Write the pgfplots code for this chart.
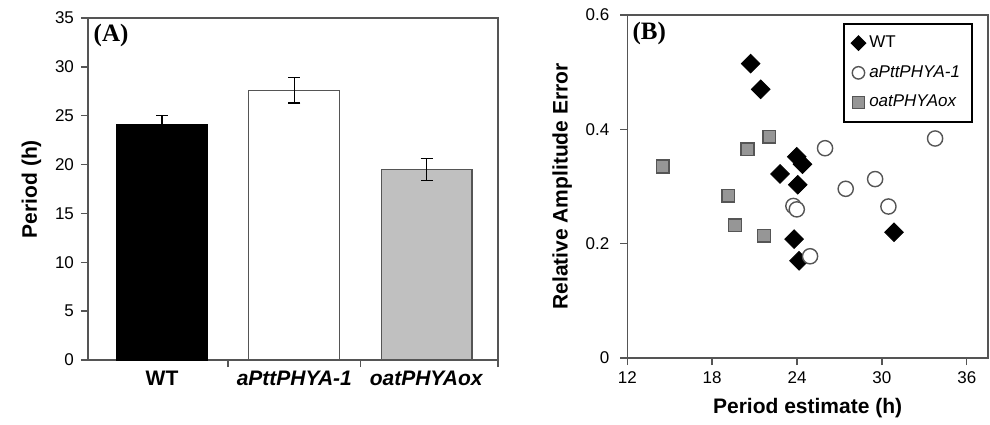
\documentclass[border=0pt]{standalone}
\usepackage{pgfplots}
\pgfplotsset{compat=1.18}
\usepackage{fontspec}
\setmainfont{Liberation Sans}
\newfontfamily\timesfont{Liberation Serif}
\definecolor{axgray}{RGB}{85,85,85}
\definecolor{oatgray}{RGB}{192,192,192}
\definecolor{sqgray}{RGB}{150,150,150}
\begin{document}
\begin{tikzpicture}
\pgfplotsset{
  every axis/.append style={
    scale only axis,
    axis line style={axgray, line width=0.7pt},
    tick style={axgray, line width=0.7pt},
    tick align=outside,
    major tick length=3.5pt,
    tick label style={font=\fontsize{8.5}{10}\selectfont},
    label style={font=\bfseries\fontsize{10.5}{12}\selectfont},
    /pgf/number format/assume math mode=true,
  }
}
% page frame, same proportions as the reference
\path (-44pt,-30.5pt) rectangle (451pt,180pt);

% (A) period bars
\begin{axis}[
  at={(0,0)}, anchor=south west,
  width=205pt, height=171pt,
  xmin=-0.56, xmax=2.54, ymin=0, ymax=35,
  ytick={0,5,...,35}, ytick pos=left,
  xtick={0.5,1.5,2.54}, xticklabels={}, xtick pos=bottom,
  extra x ticks={0,1,2},
  extra x tick labels={\textbf{WT},\textbf{\textit{aPttPHYA-1}},\textbf{\textit{oatPHYAox}}},
  extra x tick style={major tick length=0pt,
    tick label style={font=\bfseries\fontsize{10.5}{12}\selectfont, yshift=-2pt}},
  ylabel={Period (h)},
  bar width=0.687,
  clip=false,
]
  \addplot[ybar, fill=black, draw=black, line width=0.6pt,
    error bars/.cd, y dir=both, y explicit,
    error bar style={black, line width=0.6pt},
    error mark options={rotate=90, mark size=3pt, black, line width=0.6pt}]
    coordinates {(0,24.05) +- (0,1.0)};
  \addplot[ybar, fill=white, draw=axgray, line width=0.6pt,
    error bars/.cd, y dir=both, y explicit,
    error bar style={black, line width=0.6pt},
    error mark options={rotate=90, mark size=3pt, black, line width=0.6pt}]
    coordinates {(1,27.6) +- (0,1.3)};
  \addplot[ybar, fill=oatgray, draw=axgray, line width=0.6pt,
    error bars/.cd, y dir=both, y explicit,
    error bar style={black, line width=0.6pt},
    error mark options={rotate=90, mark size=3pt, black, line width=0.6pt}]
    coordinates {(2,19.5) +- (0,1.1)};
  \node[anchor=north west, font=\timesfont\bfseries\fontsize{12.5}{14}\selectfont,
    inner sep=1pt] at (rel axis cs:0.008,0.99) {(A)};
\end{axis}

% (B) amplitude error vs period
\begin{axis}[
  at={(269.65pt,1pt)}, anchor=south west,
  width=180.35pt, height=171.5pt,
  xmin=12, xmax=37.5, ymin=0, ymax=0.6,
  xtick={12,18,...,36}, ytick={0,0.2,0.4,0.6},
  xtick pos=bottom, ytick pos=left,
  yticklabel style={/pgf/number format/fixed, /pgf/number format/precision=1,
    xshift=-2pt},
  xlabel={Period estimate (h)},
  ylabel={Relative Amplitude Error},
  legend cell align=left,
  legend style={at={(rel axis cs:0.958,0.977)}, anchor=north east,
    draw=black, line width=0.9pt, fill=white,
    font=\fontsize{8.5}{10}\selectfont, row sep=3.5pt,
    inner xsep=4pt, inner ysep=4pt},
  clip=false,
]
  \addplot[only marks, mark=square*, mark size=3.3pt,
    mark options={rotate=45, fill=black, draw=black},
    legend image post style={mark size=2.4pt}]
    coordinates {(20.72,0.515) (21.43,0.470) (23.98,0.352) (24.38,0.339)
      (22.80,0.322) (24.05,0.303) (23.79,0.208) (24.14,0.170) (30.86,0.220)};
  \addlegendentry{WT}
  \addplot[only marks, mark=*, mark size=3.8pt,
    mark options={fill=white, draw=axgray, line width=0.7pt},
    legend image post style={mark size=3.1pt}]
    coordinates {(25.98,0.367) (33.76,0.384) (27.44,0.296) (29.52,0.313)
      (30.46,0.265) (23.74,0.266) (23.98,0.260) (24.92,0.178)};
  \addlegendentry{\textit{aPttPHYA-1}}
  \addplot[only marks, mark=square*, mark size=3.2pt,
    mark options={fill=sqgray, draw=axgray, line width=0.7pt},
    legend image post style={mark size=3.1pt}]
    coordinates {(14.50,0.335) (19.14,0.284) (19.62,0.232) (20.49,0.365)
      (22.04,0.387) (21.67,0.214)};
  \addlegendentry{\textit{oatPHYAox}}
  \node[anchor=north west, font=\timesfont\bfseries\fontsize{12.5}{14}\selectfont,
    inner sep=1pt] at (rel axis cs:0.008,0.985) {(B)};
\end{axis}
\end{tikzpicture}
\end{document}
